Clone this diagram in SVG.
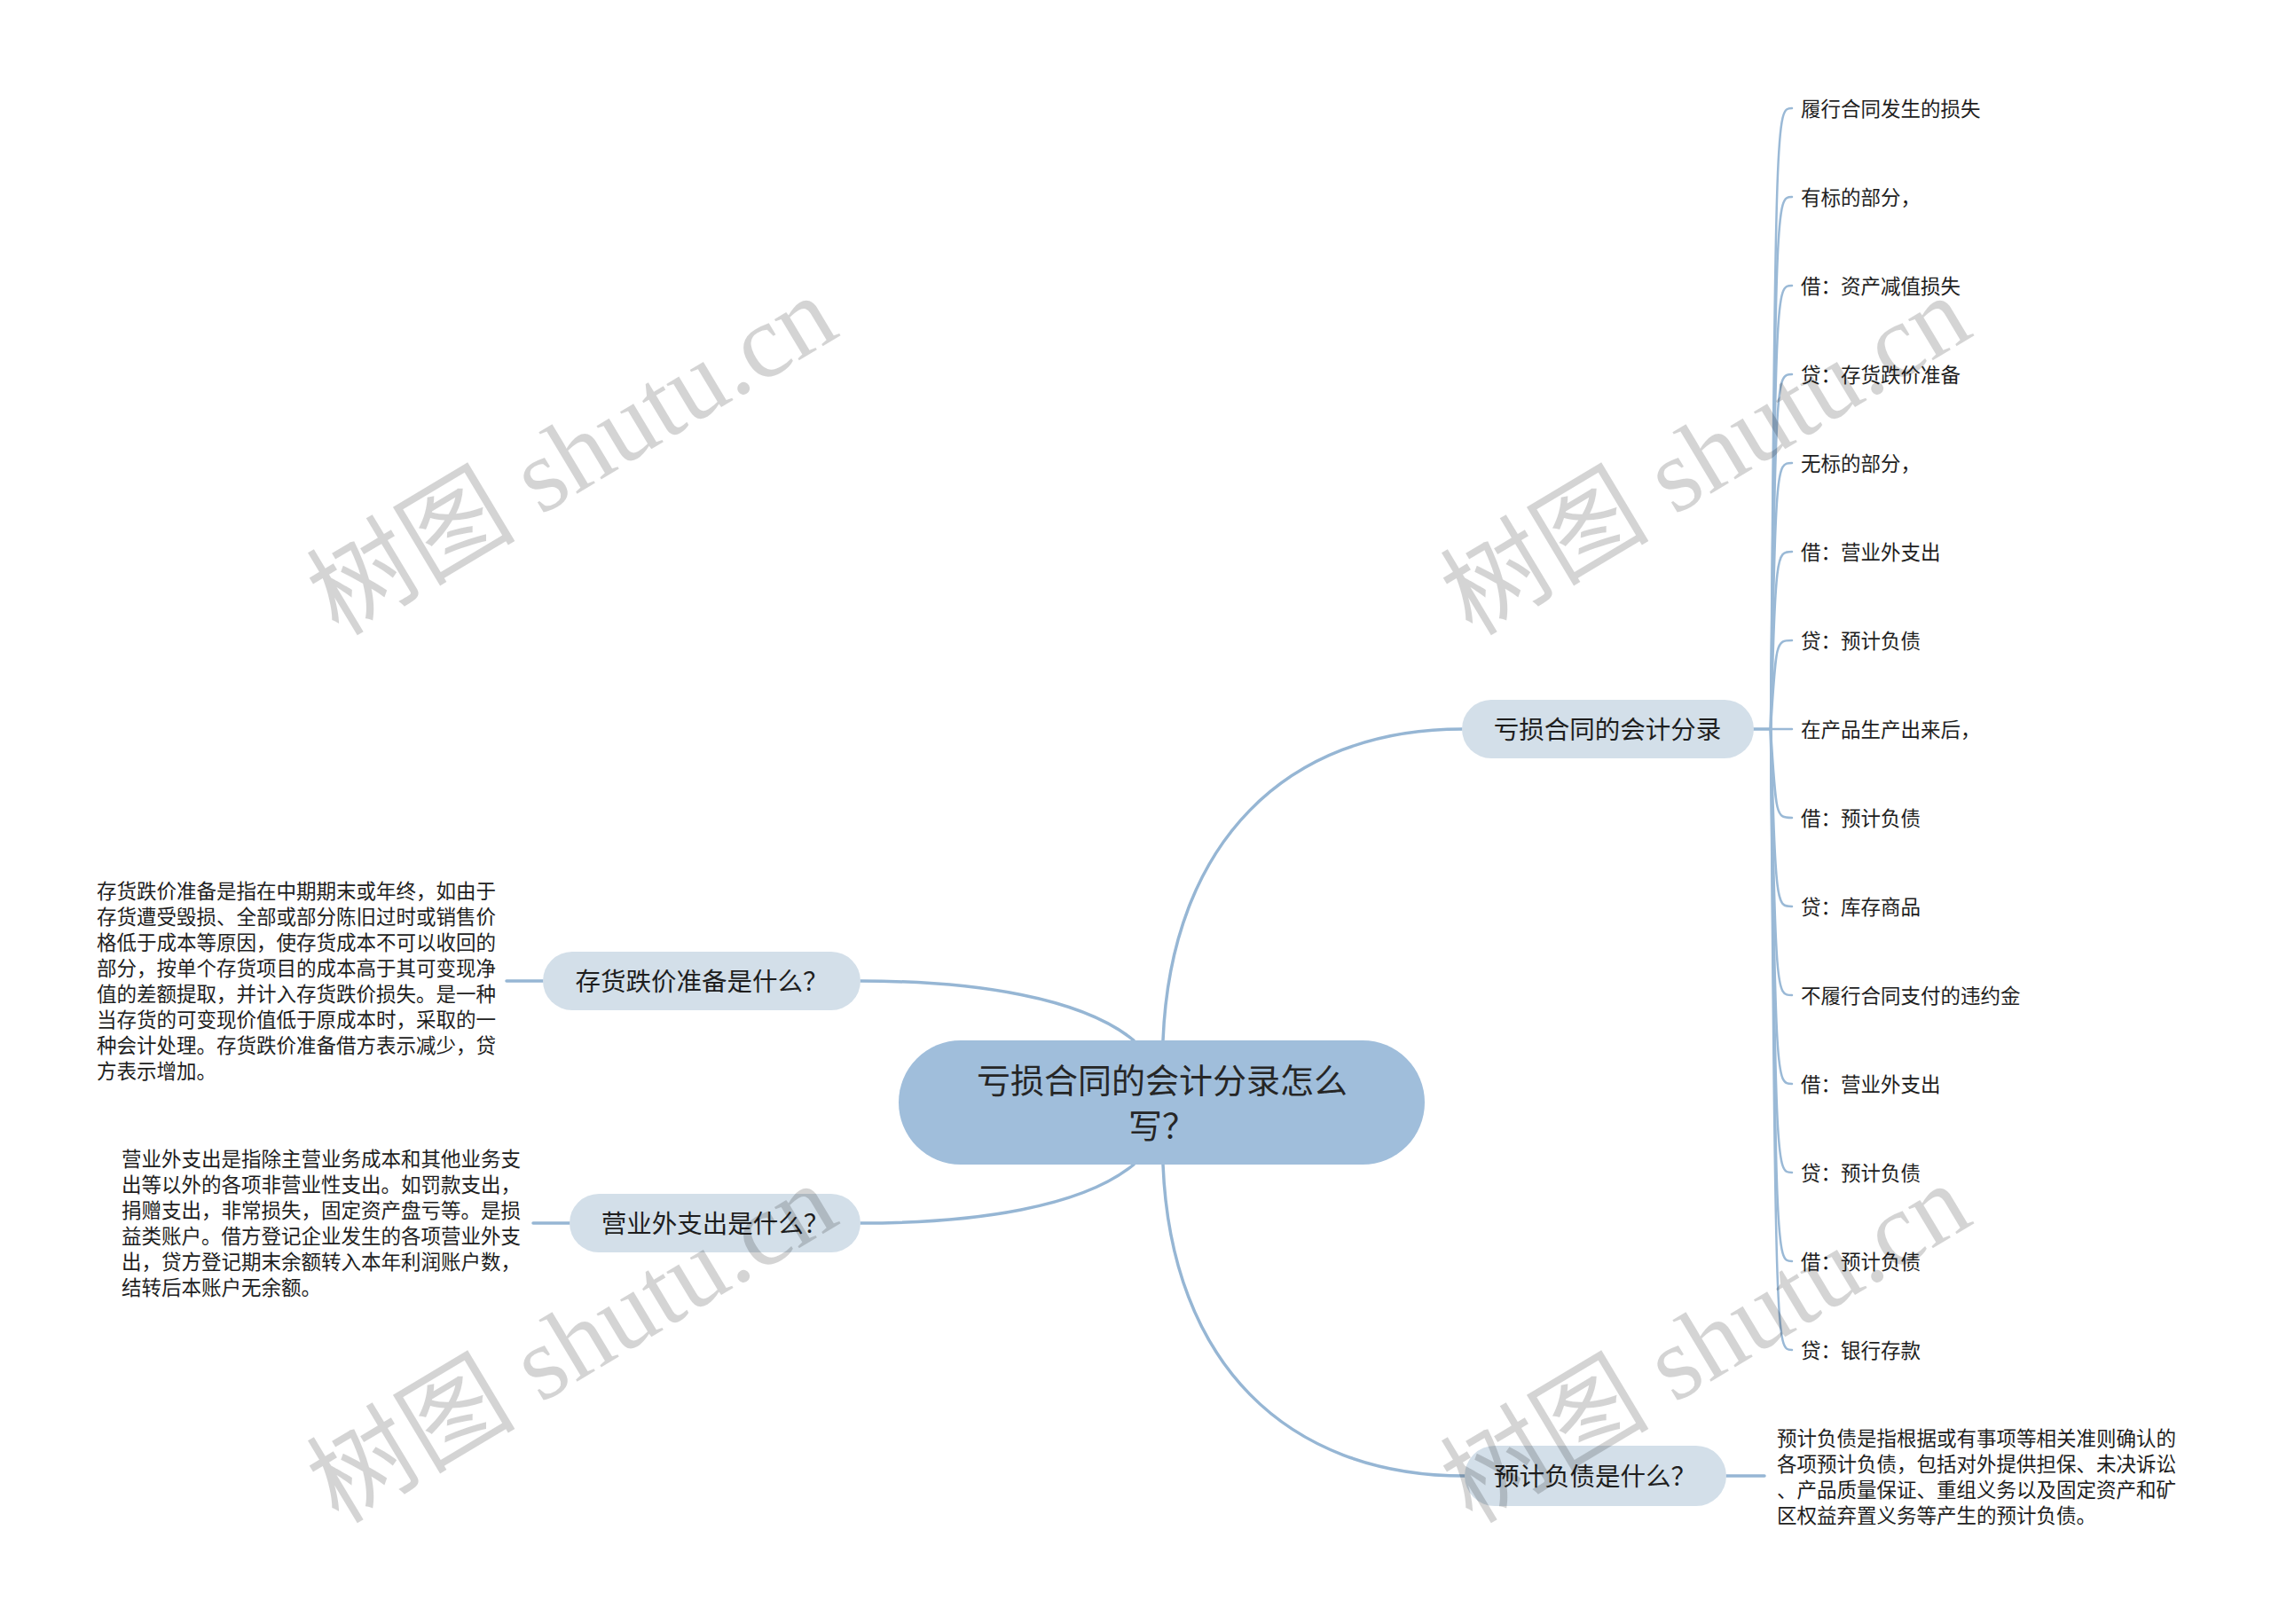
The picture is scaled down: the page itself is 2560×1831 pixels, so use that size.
<svg xmlns="http://www.w3.org/2000/svg" width="2560" height="1831" viewBox="0 0 2560 1831">
<style>
.bg{fill:#ffffff}
.ln{fill:none;stroke:#96b6d4;stroke-width:3.5;stroke-linecap:round}
.lf{fill:none;stroke:#9ab9d6;stroke-width:2.5;stroke-linecap:round}
.root{fill:#a0bedb}
.br{fill:#d3dfe9}
.t{font-family:"Noto Sans CJK SC","Noto Sans",sans-serif;fill:#1e1e1e}
.rt{font-size:38px;text-anchor:middle;fill:#262626}
.bt{font-size:28.5px;text-anchor:middle}
.leaf{font-size:22.5px}
.wm{font-family:"Liberation Serif","Noto Sans CJK SC",serif;font-size:118px;fill:#000;fill-opacity:0.17;text-anchor:middle}
</style>
<rect class="bg" x="0" y="0" width="2560" height="1831"/>
<g id="connectors">
<path class="ln" d="M1311 1173 C1320 950 1450 822 1648 822"/>
<path class="ln" d="M1311 1313 C1320 1536 1450 1664 1651 1664"/>
<path class="ln" d="M1278 1173 C1220 1125 1100 1106 970 1106"/>
<path class="ln" d="M1278 1313 C1220 1361 1100 1379 970 1379"/>
<path class="ln" d="M571 1106 H612"/>
<path class="ln" d="M601 1379 H642"/>
<path class="ln" d="M1946 1664 H1989"/>
<path class="ln" d="M1976 822 H1996"/>
<path class="lf" d="M1996 822 C2002 122 2002 122 2020 122"/>
<path class="lf" d="M1996 822 C2002 222 2002 222 2020 222"/>
<path class="lf" d="M1996 822 C2002 322 2002 322 2020 322"/>
<path class="lf" d="M1996 822 C2002 422 2002 422 2020 422"/>
<path class="lf" d="M1996 822 C2002 522 2002 522 2020 522"/>
<path class="lf" d="M1996 822 C2002 622 2002 622 2020 622"/>
<path class="lf" d="M1996 822 C2002 722 2002 722 2020 722"/>
<path class="lf" d="M1996 822 H2020"/>
<path class="lf" d="M1996 822 C2002 922 2002 922 2020 922"/>
<path class="lf" d="M1996 822 C2002 1022 2002 1022 2020 1022"/>
<path class="lf" d="M1996 822 C2002 1122 2002 1122 2020 1122"/>
<path class="lf" d="M1996 822 C2002 1222 2002 1222 2020 1222"/>
<path class="lf" d="M1996 822 C2002 1322 2002 1322 2020 1322"/>
<path class="lf" d="M1996 822 C2002 1422 2002 1422 2020 1422"/>
<path class="lf" d="M1996 822 C2002 1522 2002 1522 2020 1522"/>
</g>
<g id="root">
<rect class="root" x="1013" y="1173" width="593" height="140" rx="70"/>
<text class="t rt" x="1310" y="1215" dominant-baseline="central">亏损合同的会计分录怎么</text>
<text class="t rt" x="1310" y="1266" dominant-baseline="central">写？</text>
</g>
<g id="branch-entries">
<rect class="br" x="1648" y="789" width="329" height="66" rx="33"/>
<text class="t bt" x="1812" y="820" dominant-baseline="central">亏损合同的会计分录</text>
</g>
<g id="branch-inventory">
<rect class="br" x="612" y="1073" width="358" height="66" rx="33"/>
<text class="t bt" x="791" y="1104" dominant-baseline="central">存货跌价准备是什么？</text>
</g>
<g id="branch-nonop">
<rect class="br" x="642" y="1346" width="328" height="66" rx="33"/>
<text class="t bt" x="806" y="1377" dominant-baseline="central">营业外支出是什么？</text>
</g>
<g id="branch-provision">
<rect class="br" x="1651" y="1630" width="295" height="68" rx="34"/>
<text class="t bt" x="1798" y="1662" dominant-baseline="central">预计负债是什么？</text>
</g>
<g id="leaves" class="t leaf">
<text x="2030" y="121" dominant-baseline="central">履行合同发生的损失</text>
<text x="2030" y="221" dominant-baseline="central">有标的部分，</text>
<text x="2030" y="321" dominant-baseline="central">借：资产减值损失</text>
<text x="2030" y="421" dominant-baseline="central">贷：存货跌价准备</text>
<text x="2030" y="521" dominant-baseline="central">无标的部分，</text>
<text x="2030" y="621" dominant-baseline="central">借：营业外支出</text>
<text x="2030" y="721" dominant-baseline="central">贷：预计负债</text>
<text x="2030" y="821" dominant-baseline="central">在产品生产出来后，</text>
<text x="2030" y="921" dominant-baseline="central">借：预计负债</text>
<text x="2030" y="1021" dominant-baseline="central">贷：库存商品</text>
<text x="2030" y="1121" dominant-baseline="central">不履行合同支付的违约金</text>
<text x="2030" y="1221" dominant-baseline="central">借：营业外支出</text>
<text x="2030" y="1321" dominant-baseline="central">贷：预计负债</text>
<text x="2030" y="1421" dominant-baseline="central">借：预计负债</text>
<text x="2030" y="1521" dominant-baseline="central">贷：银行存款</text>
</g>
<g id="note-inventory" class="t leaf">
<text x="109" y="1003" dominant-baseline="central">存货跌价准备是指在中期期末或年终，如由于</text>
<text x="109" y="1032" dominant-baseline="central">存货遭受毁损、全部或部分陈旧过时或销售价</text>
<text x="109" y="1061" dominant-baseline="central">格低于成本等原因，使存货成本不可以收回的</text>
<text x="109" y="1090" dominant-baseline="central">部分，按单个存货项目的成本高于其可变现净</text>
<text x="109" y="1119" dominant-baseline="central">值的差额提取，并计入存货跌价损失。是一种</text>
<text x="109" y="1148" dominant-baseline="central">当存货的可变现价值低于原成本时，采取的一</text>
<text x="109" y="1177" dominant-baseline="central">种会计处理。存货跌价准备借方表示减少，贷</text>
<text x="109" y="1206" dominant-baseline="central">方表示增加。</text>
</g>
<g id="note-nonop" class="t leaf">
<text x="137" y="1305" dominant-baseline="central">营业外支出是指除主营业务成本和其他业务支</text>
<text x="137" y="1334" dominant-baseline="central">出等以外的各项非营业性支出。如罚款支出，</text>
<text x="137" y="1363" dominant-baseline="central">捐赠支出，非常损失，固定资产盘亏等。是损</text>
<text x="137" y="1392" dominant-baseline="central">益类账户。借方登记企业发生的各项营业外支</text>
<text x="137" y="1421" dominant-baseline="central">出，贷方登记期末余额转入本年利润账户数，</text>
<text x="137" y="1450" dominant-baseline="central">结转后本账户无余额。</text>
</g>
<g id="note-provision" class="t leaf">
<text x="2003" y="1620" dominant-baseline="central">预计负债是指根据或有事项等相关准则确认的</text>
<text x="2003" y="1649" dominant-baseline="central">各项预计负债，包括对外提供担保、未决诉讼</text>
<text x="2003" y="1678" dominant-baseline="central">、产品质量保证、重组义务以及固定资产和矿</text>
<text x="2003" y="1707" dominant-baseline="central">区权益弃置义务等产生的预计负债。</text>
</g>
<g id="watermarks">
<text class="wm" x="645" y="514" dominant-baseline="central" transform="rotate(-31 645 514)">树图 shutu.cn</text>
<text class="wm" x="1923" y="514" dominant-baseline="central" transform="rotate(-31 1923 514)">树图 shutu.cn</text>
<text class="wm" x="645" y="1515" dominant-baseline="central" transform="rotate(-31 645 1515)">树图 shutu.cn</text>
<text class="wm" x="1923" y="1515" dominant-baseline="central" transform="rotate(-31 1923 1515)">树图 shutu.cn</text>
</g>
</svg>
